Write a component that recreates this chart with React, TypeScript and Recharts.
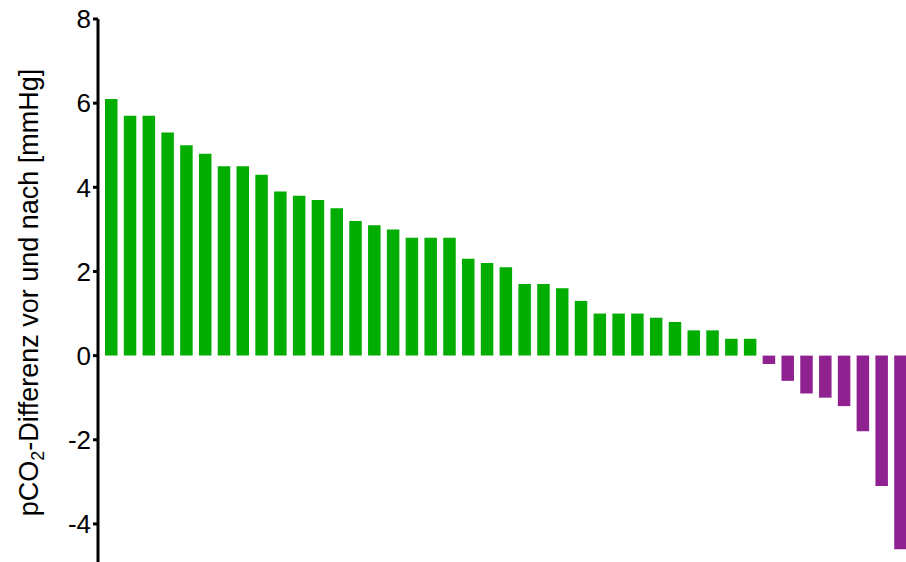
import { BarChart, Bar, XAxis, YAxis, Cell } from 'recharts';

// pCO2 difference per patient, sorted descending
const increaseValues = [
  6.1, 5.7, 5.7, 5.3, 5.0, 4.8, 4.5, 4.5, 4.3, 3.9, 3.8, 3.7, 3.5, 3.2, 3.1, 3.0, 2.8, 2.8,
  2.8, 2.3, 2.2, 2.1, 1.7, 1.7, 1.6, 1.3, 1.0, 1.0, 1.0, 0.9, 0.8, 0.6, 0.6, 0.4, 0.4,
];
const decreaseValues = [-0.2, -0.6, -0.9, -1.0, -1.2, -1.8, -3.1, -4.6];
const yTicks = [-4, -2, 0, 2, 4, 6, 8];

const GREEN = '#00ad00';
const PURPLE = '#8f2290';
const FONT = "Arial, 'Liberation Sans', sans-serif";

const chartData = [
  ...increaseValues.map((v, i) => ({ id: i + 1, value: v, up: true })),
  ...decreaseValues.map((v, i) => ({ id: increaseValues.length + i + 1, value: v, up: false })),
];

function YLabel(props: any) {
  const vb = props.viewBox || {};
  const cx = 38; // baseline of the rotated text
  const cy = vb.y + vb.height / 2;
  return (
    <text
      x={cx}
      y={cy}
      transform={`rotate(-90 ${cx} ${cy})`}
      textAnchor="middle"
      fontFamily={FONT}
      fontSize={27}
      fill="#000"
    >
      pCO
      <tspan fontSize={18} dy={6}>2</tspan>
      <tspan dy={-6}>-Differenz vor und nach [mmHg]</tspan>
    </text>
  );
}

export default function App() {
  return (
    <div style={{ position: 'fixed', top: 0, left: 0, width: 906, height: 562, overflow: 'hidden', background: '#fff' }}>
      <BarChart
        width={910}
        height={566}
        data={chartData}
        margin={{ top: 19, right: 0, bottom: 0, left: 0 }}
        barSize={12.5}
      >
        <XAxis dataKey="id" hide padding={{ left: 4, right: 0 }} />
        <YAxis
          width={98}
          domain={[-5, 8]}
          ticks={yTicks}
          interval={0}
          tickSize={5}
          tickMargin={2}
          axisLine={{ stroke: '#000', strokeWidth: 3 }}
          tickLine={{ stroke: '#000', strokeWidth: 3 }}
          tick={{ fill: '#000', fontSize: 26, fontFamily: FONT }}
          label={<YLabel />}
        />
        <Bar dataKey="value" isAnimationActive={false}>
          {chartData.map((d) => (
            <Cell key={d.id} fill={d.up ? GREEN : PURPLE} />
          ))}
        </Bar>
      </BarChart>
    </div>
  );
}
